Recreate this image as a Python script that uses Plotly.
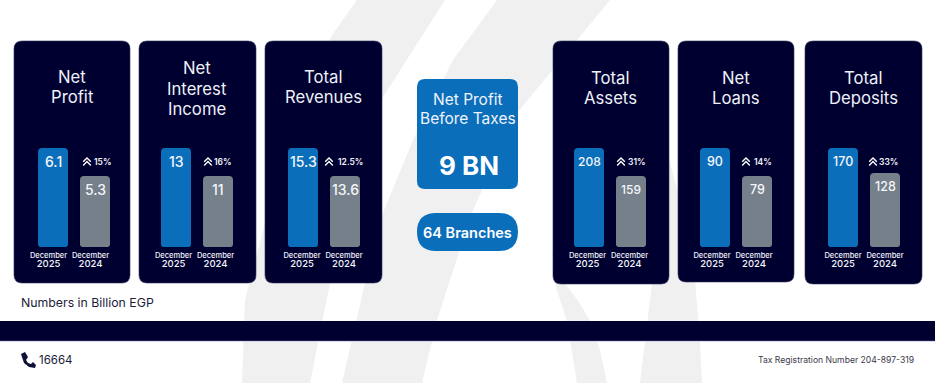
import plotly.graph_objects as go

# ---------- data ----------
metrics = ["Net Profit", "Net Interest Income", "Total Revenues", "Total Assets", "Net Loans", "Total Deposits"]
title_lines = [["Net", "Profit"], ["Net", "Interest", "Income"], ["Total", "Revenues"],
               ["Total", "Assets"], ["Net", "Loans"], ["Total", "Deposits"]]
periods = ["December 2025", "December 2024"]
values_2025 = [6.1, 13, 15.3, 208, 90, 170]
values_2024 = [5.3, 11, 13.6, 159, 79, 128]
growth = ["15%", "16%", "12.5%", "31%", "14%", "33%"]
side_title = ["Net Profit", "Before Taxes"]
side_value = "9 BN"
branches = "64 Branches"
note = "Numbers in Billion EGP"
phone = "16664"
tax = "Tax Registration Number 204-897-319"

# ---------- layout constants (pixels) ----------
W, H = 935, 383
FONT = "Inter"
NAVY = "#000030"
BLUE = "#0a6ebb"
GREY = "#75808a"
BAND = "#f0f0f0"
TITLE = "#eef1f8"
cards = [(14, 130, 41, 283), (139, 256, 41, 283), (265, 382, 41, 283),
         (553, 669, 41, 284), (678, 794, 41, 282), (805, 922, 41, 284)]
bar_left = [38, 161, 288, 574, 700, 828]       # left edge of first bar
bar_step = [42, 42, 42, 42, 42, 42]
bar_w = 30
bar_top = 148
bar_top2 = [176, 176, 176, 176, 176, 173]
bar_bottom = 247
axis_top = 140
title_cx = [72, 197, 323, 610, 736, 863]
title_ys = [[77, 97], [68, 89, 109], [77, 97], [78, 98], [78, 98], [78, 98]]
label_shift = [-4.5, -2.5, -1, -1.5, -3, 0]
chev_x = [87, 208, 329, 621, 746, 873]
pct_x = [102, 223, 350, 637, 763, 888]
value_size = [14, 14, 14, 12, 12.5, 12.5]


def X(p):
    return p / W


def Y(p):
    return 1 - p / H


def path(points, fill, line=None):
    d = "M" + " L".join(f"{X(x):.5f},{Y(y):.5f}" for x, y in points) + " Z"
    return dict(type="path", xref="paper", yref="paper", path=d, fillcolor=fill,
                line=dict(width=0) if line is None else line, layer="below")


def rrect(x0, x1, y0, y1, r, fill, line=None):
    c = lambda x, y: f"{X(x):.5f},{Y(y):.5f}"
    d = (f"M{c(x0 + r, y0)} L{c(x1 - r, y0)} Q{c(x1, y0)} {c(x1, y0 + r)} "
         f"L{c(x1, y1 - r)} Q{c(x1, y1)} {c(x1 - r, y1)} L{c(x0 + r, y1)} "
         f"Q{c(x0, y1)} {c(x0, y1 - r)} L{c(x0, y0 + r)} Q{c(x0, y0)} {c(x0 + r, y0)} Z")
    return dict(type="path", xref="paper", yref="paper", path=d, fillcolor=fill,
                line=dict(width=0) if line is None else line, layer="below")


def txt(x, y, s, size, color="#ffffff", weight=400, xanchor="center"):
    return dict(xref="paper", yref="paper", x=X(x), y=Y(y), text=s, showarrow=False,
                xanchor=xanchor, yanchor="middle", borderpad=0, borderwidth=0,
                font=dict(family=FONT, size=size, color=color, weight=weight))


shapes = [
    # background swooshes
    path([(357, 0), (445, 0), (383, 97), (352, 190), (330, 283), (310, 383), (242, 383),
          (245, 300), (265, 223), (300, 110), (332, 35)], BAND),
    path([(497, 0), (610, 0), (517, 113), (473, 210), (437, 320), (422, 383), (342, 383),
          (365, 283), (380, 220), (413, 140), (453, 60)], BAND),
    path([(552, 250), (565, 284), (579, 302), (590, 321), (600, 350), (607, 383), (577, 383),
          (567, 321), (555, 284)], BAND),
    path([(660, 140), (670, 163), (680, 200), (695, 280), (700, 340), (702, 383), (640, 383),
          (652, 283), (655, 245)], BAND),
    # side boxes and footer
    rrect(417, 518, 79, 189, 8, BLUE),
    rrect(417, 518, 213, 251, 19, BLUE),
    dict(type="rect", xref="paper", yref="paper", x0=0, x1=1, y0=Y(341), y1=Y(321),
         fillcolor=NAVY, line=dict(width=0), layer="below"),
    dict(type="line", xref="paper", yref="paper", x0=0, x1=1, y0=Y(341.3), y1=Y(341.3),
         line=dict(color="#c4c6de", width=0.8), layer="below"),
    # phone icon
    path([(21, 354), (25, 352), (28, 357), (26, 360), (28, 363), (31, 364), (33, 362),
          (36, 365), (35, 368), (29, 367), (24, 363)], "#10103a"),
]
annotations = []
fig = go.Figure()

for i in range(6):
    n = "" if i == 0 else str(i + 1)
    shapes.append(rrect(*cards[i], 8, NAVY, dict(color="#34345f", width=0.6)))
    for ln, ly in zip(title_lines[i], title_ys[i]):
        annotations.append(txt(title_cx[i], ly, ln, 16.7, TITLE, 400))

    v1, v2 = values_2025[i], values_2024[i]
    scale = (bar_top2[i] - bar_top) / (v1 - v2)          # px per unit of this card's axis
    lo = v1 - (bar_bottom - bar_top) / scale
    hi = lo + (bar_bottom - axis_top) / scale
    step = bar_step[i]
    dom0 = bar_left[i] - (step - bar_w) / 2
    dom1 = dom0 + 2 * step
    off = label_shift[i] / step

    fig.add_trace(go.Bar(x=[0, 1], y=[v1, v2], xaxis="x" + n, yaxis="y" + n, width=bar_w / step,
                         marker=dict(color=[BLUE, GREY], cornerradius=4, line=dict(width=0)),
                         name=metrics[i], showlegend=False, hoverinfo="skip"))
    ticktext = []
    for p in periods:
        m, yr = p.split(" ")
        ticktext.append(f"{m}<br><span style='font-size:9.5px'>{yr}</span>")
    fig.layout["xaxis" + n] = dict(domain=[X(dom0), X(dom1)], range=[-0.5, 1.5], anchor="y" + n,
                                   tickmode="array", tickvals=[off, 1 + off], ticktext=ticktext,
                                   ticks="", ticklabelstandoff=2, showgrid=False, zeroline=False,
                                   showline=False, tickangle=0, automargin=False,
                                   tickfont=dict(family=FONT, size=7.5, color="#f2f4fa", weight=500))
    fig.layout["yaxis" + n] = dict(domain=[Y(bar_bottom), Y(axis_top)], range=[lo, hi], anchor="x" + n,
                                   visible=False, showgrid=False, zeroline=False, automargin=False)

    # value labels at the top of each bar
    for xv, v in zip([0, 1], [v1, v2]):
        annotations.append(dict(xref="x" + n, yref="y" + n, x=xv, y=v, yshift=-13, text=str(v),
                                showarrow=False, xanchor="center", yanchor="middle",
                                font=dict(family=FONT, size=value_size[i], color="#f4f6fb", weight=500)))
    # rounded lower corners of the bars
    for b in range(2):
        a = bar_left[i] + b * step
        e = a + bar_w
        r = 3.5
        shapes.append(dict(type="path", xref="paper", yref="paper", layer="above", fillcolor=NAVY,
                           line=dict(width=0),
                           path=f"M{X(a-.3)},{Y(bar_bottom+.3)} L{X(a+r)},{Y(bar_bottom+.3)} "
                                f"Q{X(a)},{Y(bar_bottom)} {X(a-.3)},{Y(bar_bottom-r)} Z"))
        shapes.append(dict(type="path", xref="paper", yref="paper", layer="above", fillcolor=NAVY,
                           line=dict(width=0),
                           path=f"M{X(e+.3)},{Y(bar_bottom+.3)} L{X(e-r)},{Y(bar_bottom+.3)} "
                                f"Q{X(e)},{Y(bar_bottom)} {X(e+.3)},{Y(bar_bottom-r)} Z"))
    # growth chevrons and percentage
    cx = chev_x[i]
    for dy in (-2.2, 1.4):
        shapes.append(dict(type="path", xref="paper", yref="paper", layer="above",
                           line=dict(color="#ffffff", width=1.4),
                           path=f"M{X(cx-3.8)},{Y(162+dy+2)} L{X(cx)},{Y(162+dy-1.8)} L{X(cx+3.8)},{Y(162+dy+2)}"))
    annotations.append(txt(pct_x[i], 162, growth[i], 8.5, "#f4f6fb", 600))

annotations += [
    txt(468, 99, side_title[0], 15.5, "#f0f4fa", 400),
    txt(468, 118, side_title[1], 15.5, "#f0f4fa", 400),
    txt(469, 165, side_value, 26, "#ffffff", 700),
    txt(467, 232, branches, 14.5, "#ffffff", 600),
    txt(21, 302, note, 12.3, "#1c1c3a", 400, "left"),
    txt(39, 360, phone, 11.5, "#1c1c3a", 400, "left"),
    txt(914, 360, tax, 8.6, "#3a3a4a", 400, "right"),
]

fig.update_layout(width=W, height=H, margin=dict(l=0, r=0, t=0, b=0), autosize=False,
                  paper_bgcolor="#ffffff", plot_bgcolor="rgba(0,0,0,0)", showlegend=False,
                  barmode="overlay", shapes=shapes, annotations=annotations,
                  font=dict(family=FONT))
fig.write_html("out.html", config=dict(displayModeBar=False),
               post_script="document.body.style.margin='0';document.documentElement.style.overflow='hidden';")
